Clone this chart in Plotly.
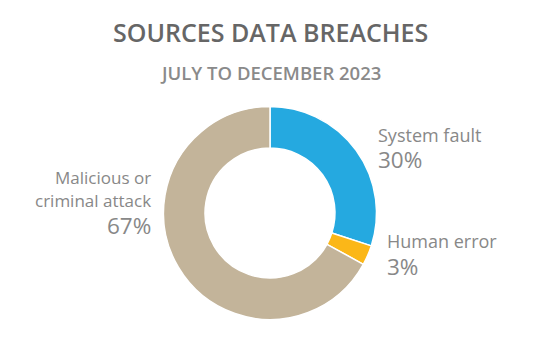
import plotly.graph_objects as go

categories = ["System fault", "Human error", "Malicious or criminal attack"]
values = [30, 3, 67]
pct_labels = ["30%", "3%", "67%"]
colors = ["#25A9E0", "#FBB718", "#C3B49A"]

W, H = 540, 360
cx, cy, R = 270, 213, 106.5

fig = go.Figure(go.Pie(
    labels=categories, values=values, hole=0.61, sort=False,
    direction="clockwise", rotation=0,
    marker=dict(colors=colors, line=dict(color="white", width=1.5)),
    textinfo="none", hoverinfo="label+percent", showlegend=False,
    domain=dict(x=[(cx - R) / W, (cx + R) / W], y=[1 - (cy + R) / H, 1 - (cy - R) / H]),
))

FONT = "Open Sans"
ann = []
def add(text, x, y, size, color, anchor, weight=None):
    f = dict(family=FONT, size=size, color=color)
    if weight:
        f["weight"] = weight
    ann.append(dict(text=text, x=x / W, y=1 - y / H, xref="paper", yref="paper",
                    xanchor=anchor, yanchor="middle", showarrow=False, font=f))

add("SOURCES DATA BREACHES", 270, 32, 25, "#666666", "center", 600)
add("JULY TO DECEMBER 2023", 270, 73, 18.5, "#8a8a8a", "center", 600)

lab_color = "#888888"
add(categories[0], 376, 135, 18, lab_color, "left")
add(pct_labels[0], 376, 159, 22.5, lab_color, "left")
add(categories[1], 385, 241, 18, lab_color, "left")
add(pct_labels[1], 385, 266, 22.5, lab_color, "left")
add("Malicious or", 153, 177, 17, lab_color, "right")
add("criminal attack", 153, 200, 17, lab_color, "right")
add(pct_labels[2], 153, 225, 22.5, lab_color, "right")

fig.update_layout(width=W, height=H, margin=dict(l=0, r=0, t=0, b=0),
                  paper_bgcolor="white", plot_bgcolor="white", annotations=ann)
fig.write_html("out.html")
